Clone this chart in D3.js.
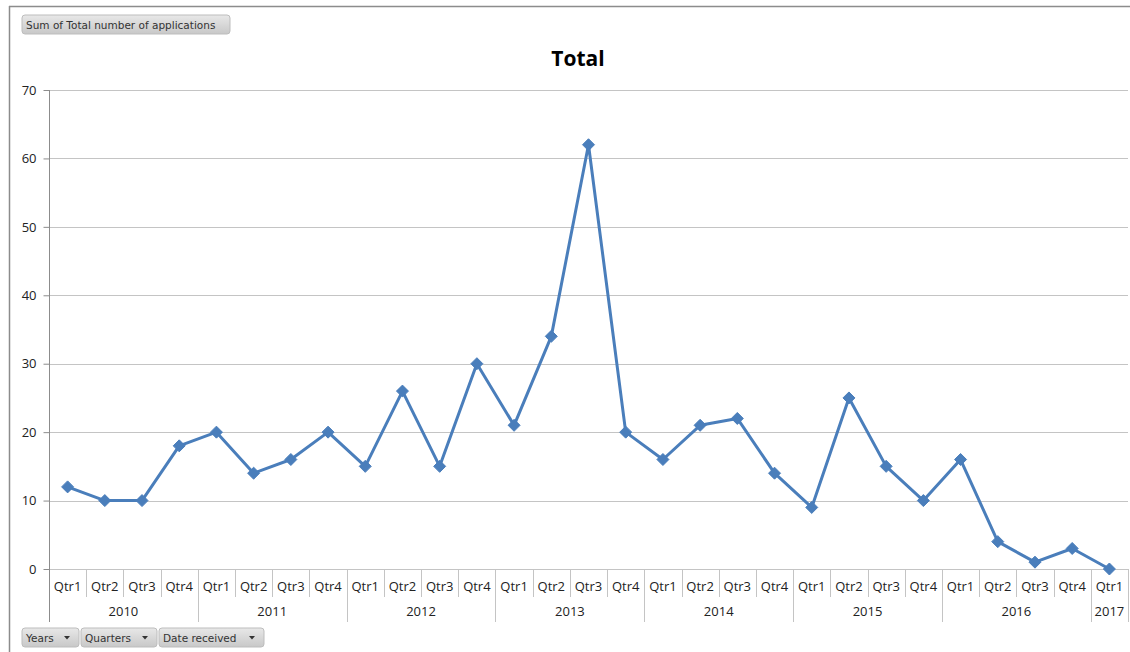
<!DOCTYPE html>
<html>
<head>
<meta charset="utf-8">
<script src="https://cdn.jsdelivr.net/npm/d3@7/dist/d3.min.js"></script>
<style>
  html, body { margin: 0; padding: 0; background: #fff; }
  svg { display: block; }
</style>
</head>
<body>
<svg id="chart" width="1130" height="652"></svg>
<script>
// Pivot chart: total number of applications per quarter
const years = ["2010", "2011", "2012", "2013", "2014", "2015", "2016", "2017"];
const quartersPerYear = [4, 4, 4, 4, 4, 4, 4, 1];
const quarterNames = ["Qtr1", "Qtr2", "Qtr3", "Qtr4"];
const applications = [
  12, 10, 10, 18,
  20, 14, 16, 20,
  15, 26, 15, 30,
  21, 34, 62, 20,
  16, 21, 22, 14,
  9, 25, 15, 10,
  16, 4, 1, 3,
  0
];
const yTicks = [0, 10, 20, 30, 40, 50, 60, 70];
const fieldButtons = ["Years", "Quarters", "Date received"];

// Build category keys (year|quarter)
const cats = [];
years.forEach((yr, i) => {
  for (let q = 0; q < quartersPerYear[i]; q++) cats.push({ year: yr, q: quarterNames[q], key: yr + "|" + quarterNames[q] });
});
const points = cats.map((c, i) => ({ ...c, value: applications[i] }));

const svg = d3.select("#chart");
const plotLeft = 49, plotRight = 1128, plotTop = 90, plotBottom = 569;
const x = d3.scaleBand().domain(cats.map(c => c.key)).range([plotLeft, plotRight]);
const y = d3.scaleLinear().domain([0, 70]).range([plotBottom, plotTop]);
const gridColor = "#c4c4c4";
const font = "'Open Sans', 'Liberation Sans', sans-serif";

// outer frame
svg.append("line").attr("x1", 9.5).attr("x2", 9.5).attr("y1", 6).attr("y2", 652).attr("stroke", "#8c8c8c").attr("stroke-width", 1.5);
svg.append("line").attr("x1", 9).attr("x2", 1130).attr("y1", 6.5).attr("y2", 6.5).attr("stroke", "#8c8c8c").attr("stroke-width", 1.5);

// gradient for field buttons
const defs = svg.append("defs");
const grad = defs.append("linearGradient").attr("id", "btn").attr("x1", 0).attr("x2", 0).attr("y1", 0).attr("y2", 1);
grad.append("stop").attr("offset", "0%").attr("stop-color", "#e8e8e8");
grad.append("stop").attr("offset", "100%").attr("stop-color", "#c8c8c8");

function button(x0, y0, w, h, label, arrow) {
  const g = svg.append("g");
  g.append("rect").attr("x", x0).attr("y", y0).attr("width", w).attr("height", h).attr("rx", 3)
    .attr("fill", "url(#btn)").attr("stroke", "#bdbdbd");
  g.append("text").attr("x", x0 + 4).attr("y", y0 + h / 2 + 4).attr("font-family", "'DejaVu Sans', sans-serif")
    .attr("font-size", 10.5).attr("fill", "#333").text(label);
  if (arrow) {
    const ax = x0 + w - 12, ay = y0 + h / 2;
    g.append("path").attr("d", `M${ax - 3},${ay - 1.5}L${ax + 3},${ay - 1.5}L${ax},${ay + 2}Z`).attr("fill", "#333");
  }
}
button(22, 15, 208, 19, "Sum of Total number of applications", false);

// title
svg.append("text").attr("x", 578).attr("y", 66).attr("text-anchor", "middle")
  .attr("font-family", font).attr("font-weight", "bold").attr("font-size", 21).attr("fill", "#000").text("Total");

// horizontal gridlines
svg.append("g").selectAll("line").data(yTicks).join("line")
  .attr("x1", plotLeft).attr("x2", plotRight).attr("y1", d => Math.round(y(d)) + 0.5).attr("y2", d => Math.round(y(d)) + 0.5)
  .attr("stroke", gridColor).attr("stroke-width", 1);

// y axis
const yAxis = svg.append("g").attr("transform", `translate(${plotLeft + 0.5},0)`)
  .call(d3.axisLeft(y).tickValues(yTicks).tickSize(6).tickPadding(7));
yAxis.select(".domain").remove();
yAxis.selectAll(".tick line").attr("stroke", "#8c8c8c");
yAxis.selectAll(".tick text").attr("font-family", font).attr("font-size", 13).attr("fill", "#222");
svg.append("line").attr("x1", plotLeft + 0.5).attr("x2", plotLeft + 0.5).attr("y1", plotTop).attr("y2", 622).attr("stroke", "#8c8c8c");

// category axis: quarter separators and year separators
const sepG = svg.append("g");
cats.forEach((c, i) => {
  if (i === 0) return;
  const xs = Math.round(x(c.key)) + 0.5;
  const yearStart = c.q === "Qtr1";
  sepG.append("line").attr("x1", xs).attr("x2", xs).attr("y1", plotBottom).attr("y2", yearStart ? 622 : 597)
    .attr("stroke", gridColor);
});
sepG.append("line").attr("x1", plotRight + 0.5).attr("x2", plotRight + 0.5).attr("y1", plotBottom).attr("y2", 622).attr("stroke", gridColor);

// quarter labels
svg.append("g").selectAll("text").data(cats).join("text")
  .attr("x", d => x(d.key) + x.bandwidth() / 2).attr("y", 591).attr("text-anchor", "middle")
  .attr("font-family", font).attr("font-size", 13).attr("fill", "#222").text(d => d.q);

// year labels
let idx = 0;
years.forEach((yr, i) => {
  const first = cats[idx], last = cats[idx + quartersPerYear[i] - 1];
  const cx = (x(first.key) + x(last.key) + x.bandwidth()) / 2;
  svg.append("text").attr("x", cx).attr("y", 616).attr("text-anchor", "middle")
    .attr("font-family", font).attr("font-size", 13).attr("fill", "#222").text(yr);
  idx += quartersPerYear[i];
});

// series line
const lineColor = "#4a7ebb";
const line = d3.line().x(d => x(d.key) + x.bandwidth() / 2).y(d => y(d.value));
svg.append("path").datum(points).attr("d", line).attr("fill", "none")
  .attr("stroke", lineColor).attr("stroke-width", 3).attr("stroke-linejoin", "round");

// diamond markers
svg.append("g").selectAll("path").data(points).join("path")
  .attr("transform", d => `translate(${x(d.key) + x.bandwidth() / 2},${y(d.value)})`)
  .attr("d", "M0,-6L6,0L0,6L-6,0Z").attr("fill", lineColor).attr("stroke", lineColor).attr("stroke-width", 1);

// field buttons along the bottom
button(22, 628, 57, 19, fieldButtons[0], true);
button(81, 628, 76, 19, fieldButtons[1], true);
button(159, 628, 105, 19, fieldButtons[2], true);
</script>
</body>
</html>
